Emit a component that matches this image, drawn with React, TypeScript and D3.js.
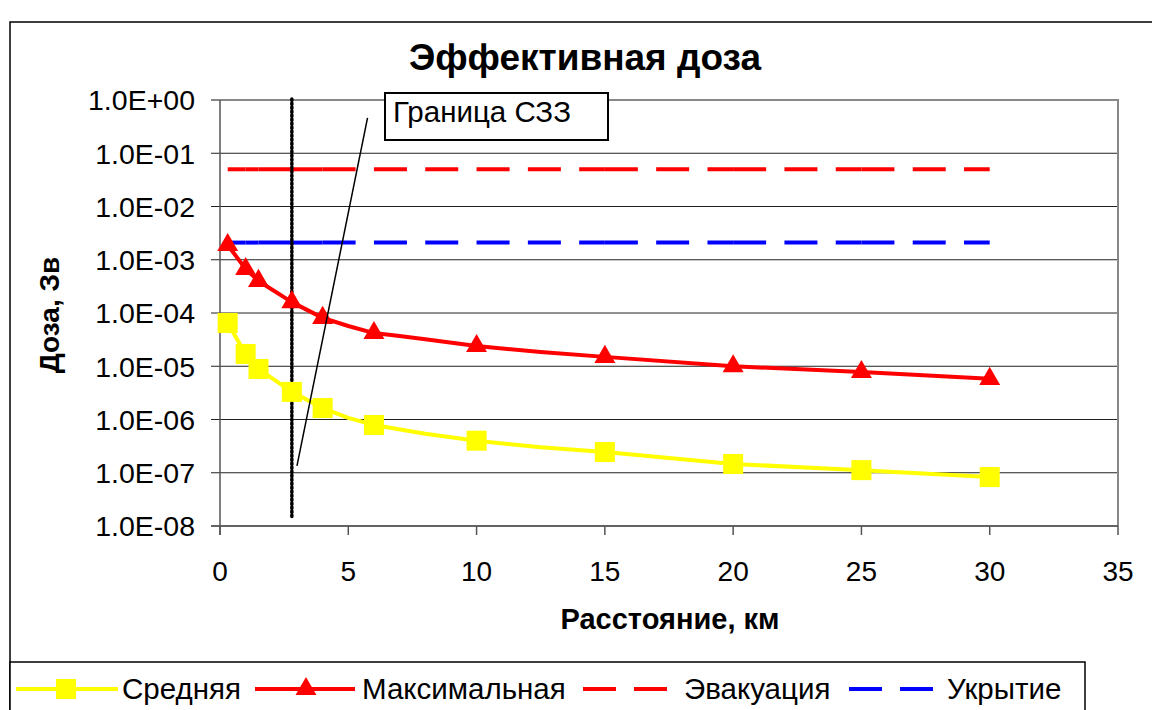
import React from "react";
import * as d3 from "d3";

// distances (km) and doses (Sv)
const avgDist = [0.3, 1, 1.5, 2.8, 4, 5, 6, 8, 10, 12.5, 15, 20, 25, 30];
const avgDose = [6.5e-5, 1.7e-5, 8.9e-6, 3.3e-6, 1.64e-6, 1.07e-6, 7.9e-7, 5.4e-7, 4.0e-7, 3.0e-7, 2.45e-7, 1.46e-7, 1.12e-7, 8.3e-8];
const maxDist = [0.3, 1, 1.5, 2.8, 4, 5, 6, 7, 8, 10, 12.5, 15, 20, 25, 30];
const maxDose = [1.89e-3, 6.7e-4, 4.0e-4, 1.6e-4, 8.1e-5, 5.7e-5, 4.2e-5, 3.7e-5, 3.2e-5, 2.4e-5, 1.85e-5, 1.5e-5, 1.0e-5, 7.8e-6, 5.8e-6];
const markerDist = [0.3, 1, 1.5, 2.8, 4, 6, 10, 15, 20, 25, 30];

// evacuation / shelter levels are given at the same distances
const levelDist = [0.3, 1, 1.5, 2.8, 4, 6, 10, 15, 20, 25, 30];
const evacuation = 5e-2;
const shelter = 2.1e-3;

const szzDist = 2.8;
const xTicks = [0, 5, 10, 15, 20, 25, 30, 35];
const yTicks = [1, 1e-1, 1e-2, 1e-3, 1e-4, 1e-5, 1e-6, 1e-7, 1e-8];
const yTickLabels = ["1.0E+00", "1.0E-01", "1.0E-02", "1.0E-03", "1.0E-04", "1.0E-05", "1.0E-06", "1.0E-07", "1.0E-08"];
const legendNames = ["Средняя", "Максимальная", "Эвакуация", "Укрытие"];

const FONT = "'Liberation Sans', Arial, sans-serif";

export default function App() {
  const x = d3.scaleLinear().domain([0, 35]).range([220, 1118]);
  const y = d3.scaleLog().domain([1e-8, 1]).range([526, 100]);

  const line = d3.line<[number, number]>()
    .x(d => x(d[0]))
    .y(d => y(d[1]));

  const avgPts: [number, number][] = avgDist.map((d, i) => [d, avgDose[i]]);
  const maxPts: [number, number][] = maxDist.map((d, i) => [d, maxDose[i]]);
  const avgMarks = avgPts.filter(p => markerDist.includes(p[0]));
  const maxMarks = maxPts.filter(p => markerDist.includes(p[0]));

  const tri = d3.symbol().type(d3.symbolTriangle).size(190)();

  // dashed level lines, pattern restarts on every segment
  const levelSegs = (v: number, color: string, key: string) =>
    levelDist.slice(1).map((d, i) => (
      <line key={key + i} x1={x(levelDist[i])} x2={x(d)} y1={y(v)} y2={y(v)}
        stroke={color} strokeWidth={4} strokeDasharray="33 18.3" />
    ));

  return (
    <svg width={1152} height={710} style={{ position: "absolute", left: 0, top: 0 }}>
      <rect x={0} y={0} width={1152} height={710} fill="#fff" />
      {/* chart frame */}
      <rect x={10} y={22} width={1160} height={720} fill="none" stroke="#000" strokeWidth={1.5} />

      <text x={585} y={70} textAnchor="middle" fontFamily={FONT} fontWeight="bold" fontSize={37}>Эффективная доза</text>

      {/* grid */}
      {yTicks.map((t, i) => (
        <g key={"y" + i}>
          <line x1={211} x2={1118} y1={y(t)} y2={y(t)} stroke={i === 0 ? "#888" : "#222"} strokeWidth={i === 0 ? 2 : 1} />
          <text x={195} y={y(t)} dy="0.36em" textAnchor="end" fontFamily={FONT} fontSize={28.5}>{yTickLabels[i]}</text>
        </g>
      ))}
      <line x1={1118} x2={1118} y1={99} y2={526} stroke="#888" strokeWidth={2} />
      <line x1={220} x2={220} y1={100} y2={535} stroke="#555" strokeWidth={1.5} />
      <line x1={211} x2={1118} y1={526} y2={526} stroke="#555" strokeWidth={1.5} />
      {xTicks.map(t => (
        <g key={"x" + t}>
          <line x1={x(t)} x2={x(t)} y1={526} y2={535} stroke="#555" strokeWidth={1.5} />
          <text x={x(t)} y={581} textAnchor="middle" fontFamily={FONT} fontSize={28}>{t}</text>
        </g>
      ))}

      <text x={670} y={629} textAnchor="middle" fontFamily={FONT} fontWeight="bold" fontSize={29}>Расстояние, км</text>
      <text transform="translate(59,315) rotate(-90)" textAnchor="middle" fontFamily={FONT} fontWeight="bold" fontSize={28}>Доза, Зв</text>

      {/* level lines */}
      {levelSegs(evacuation, "#ff0000", "e")}
      {levelSegs(shelter, "#0000ff", "s")}

      {/* sanitary zone border */}
      <line x1={x(szzDist)} x2={x(szzDist)} y1={99} y2={519} stroke="#000" strokeWidth={3.5} strokeDasharray="1.5 2.5" strokeLinecap="round" />

      {/* series */}
      <path d={line(avgPts) || ""} fill="none" stroke="#ffff00" strokeWidth={4} strokeLinejoin="round" />
      <path d={line(maxPts) || ""} fill="none" stroke="#ff0000" strokeWidth={4} strokeLinejoin="round" />
      {avgMarks.map((p, i) => (
        <rect key={"sq" + i} x={x(p[0]) - 10} y={y(p[1]) - 10} width={20} height={20} fill="#ffff00" />
      ))}
      {maxMarks.map((p, i) => (
        <path key={"tr" + i} d={tri || ""} transform={`translate(${x(p[0])},${y(p[1])})`} fill="#ff0000" />
      ))}

      {/* annotation */}
      <line x1={x(3.0)} y1={y(1.35e-7)} x2={x(5.75)} y2={y(0.46)} stroke="#000" strokeWidth={1.5} />
      <rect x={385} y={93} width={223} height={47} fill="#fff" stroke="#000" strokeWidth={2} />
      <text x={393} y={122} fontFamily={FONT} fontSize={29.5}>Граница СЗЗ</text>

      {/* legend */}
      <rect x={10} y={662} width={1075} height={60} fill="#fff" stroke="#000" strokeWidth={1.5} />
      <g fontFamily={FONT} fontSize={29.5}>
        <line x1={16} x2={118} y1={689} y2={689} stroke="#ffff00" strokeWidth={4} />
        <rect x={56} y={679} width={20} height={20} fill="#ffff00" />
        <text x={122} y={699}>{legendNames[0]}</text>

        <line x1={255} x2={355} y1={689} y2={689} stroke="#ff0000" strokeWidth={4} />
        <path d={tri || ""} transform="translate(306,689)" fill="#ff0000" />
        <text x={362} y={699}>{legendNames[1]}</text>

        <line x1={583} x2={668} y1={689} y2={689} stroke="#ff0000" strokeWidth={4} strokeDasharray="33 18" />
        <text x={684} y={699}>{legendNames[2]}</text>

        <line x1={849} x2={934} y1={689} y2={689} stroke="#0000ff" strokeWidth={4} strokeDasharray="33 18" />
        <text x={947} y={699}>{legendNames[3]}</text>
      </g>
    </svg>
  );
}
